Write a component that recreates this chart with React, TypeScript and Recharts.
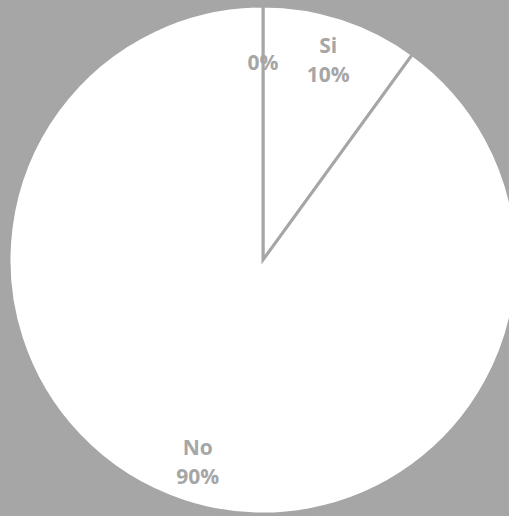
import React from 'react';
import { PieChart, Pie, Cell } from 'recharts';

const categories = ['', 'Si', 'No'];
const values = [0, 10, 90];
const percentLabels = ['0%', '10%', '90%'];

const data = categories.map((name, i) => ({ name, value: values[i], pct: percentLabels[i] }));

const GRAY = '#a6a6a6';
const RAD = Math.PI / 180;

const renderLabel = (props: any) => {
  const { cx, cy, midAngle, index } = props;
  const d = data[index];
  const r = d.name ? 211 : 198;
  const x = cx + r * Math.cos(-midAngle * RAD);
  const y = cy + r * Math.sin(-midAngle * RAD);
  const style = { fontFamily: '"Open Sans", sans-serif', fontWeight: 700, fontSize: 21, fill: GRAY };
  if (!d.name) {
    return (
      <text x={x} y={y} textAnchor="middle" dominantBaseline="central" style={style}>
        {d.pct}
      </text>
    );
  }
  return (
    <text x={x} y={y} textAnchor="middle" style={style}>
      <tspan x={x} dy={-6}>{d.name}</tspan>
      <tspan x={x} dy={29}>{d.pct}</tspan>
    </text>
  );
};

export default function App() {
  return (
    <div style={{ position: 'fixed', left: 0, top: 0, width: 509, height: 516, background: GRAY, overflow: 'hidden' }}>
      <PieChart width={509} height={516} margin={{ top: 0, right: 0, bottom: 0, left: 0 }}>
        <Pie
          data={data}
          dataKey="value"
          nameKey="name"
          cx={263}
          cy={260}
          outerRadius={254}
          startAngle={90}
          endAngle={-270}
          stroke={GRAY}
          strokeWidth={3}
          label={renderLabel}
          labelLine={false}
          isAnimationActive={false}
        >
          {data.map((d, i) => (
            <Cell key={i} fill="#ffffff" />
          ))}
        </Pie>
      </PieChart>
    </div>
  );
}
